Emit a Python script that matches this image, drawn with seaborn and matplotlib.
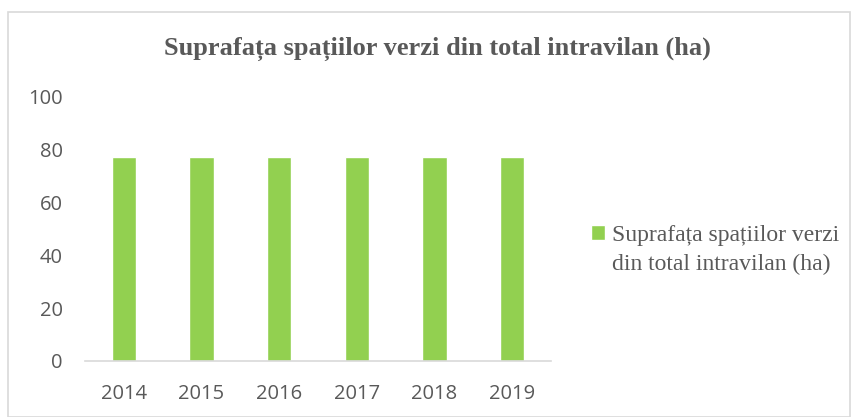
import matplotlib
matplotlib.use("Agg")
import matplotlib.pyplot as plt
import seaborn as sns
import pandas as pd
from matplotlib.patches import Rectangle

years = ["2014", "2015", "2016", "2017", "2018", "2019"]
values = [77.3, 77.3, 77.3, 77.3, 77.3, 77.3]
series_name = "Suprafața spațiilor verzi\ndin total intravilan (ha)"
title = "Suprafața spațiilor verzi din total intravilan (ha)"

df = pd.DataFrame({"year": years, "value": values, "series": series_name})

sns.set_theme(style="white")
fig = plt.figure(figsize=(8.58, 4.17), dpi=100)
ax = fig.add_axes([85/858, 1-361/417, (551-85)/858, (361-97)/417])

sns.barplot(data=df, x="year", y="value", hue="series", palette=["#92D050"],
            width=0.31, ax=ax, saturation=1)

ax.set_ylim(0, 100)
ax.set_yticks([0, 20, 40, 60, 80, 100])
ax.set_xlabel("")
ax.set_ylabel("")
for s in ["top", "right", "left"]:
    ax.spines[s].set_visible(False)
ax.spines["bottom"].set_color("#D9D9D9")
ax.spines["bottom"].set_linewidth(1.2)
ax.tick_params(axis="both", length=0, labelsize=14.5, colors="#595959")
ax.tick_params(axis="x", pad=16.5)
ax.tick_params(axis="y", pad=16)
for lab in ax.get_xticklabels() + ax.get_yticklabels():
    lab.set_fontfamily("Open Sans")

fig.text(437/858, 1-49/417, title, ha="center", va="center",
         fontfamily="Liberation Serif", fontweight="bold", fontsize=19, color="#595959")

leg = ax.legend(loc="center left", bbox_to_anchor=(591/858, 1-250/417),
                bbox_transform=fig.transFigure, frameon=False,
                prop={"family": "Liberation Serif", "size": 17},
                handlelength=0.6, handleheight=0.6, handletextpad=0.3,
                borderpad=0, borderaxespad=0)
for t in leg.get_texts():
    t.set_color("#595959")
    t.set_linespacing(1.5)
try:
    for col in leg._legend_handle_box.get_children():
        for item in col.get_children():
            item.align = "top"
except Exception:
    pass

fig.patches.append(Rectangle((8/858, 0), 1-16/858, 1-12/417, transform=fig.transFigure,
                             fill=False, edgecolor="#D9D9D9", linewidth=1.2))

fig.savefig("out.png", dpi=100)
